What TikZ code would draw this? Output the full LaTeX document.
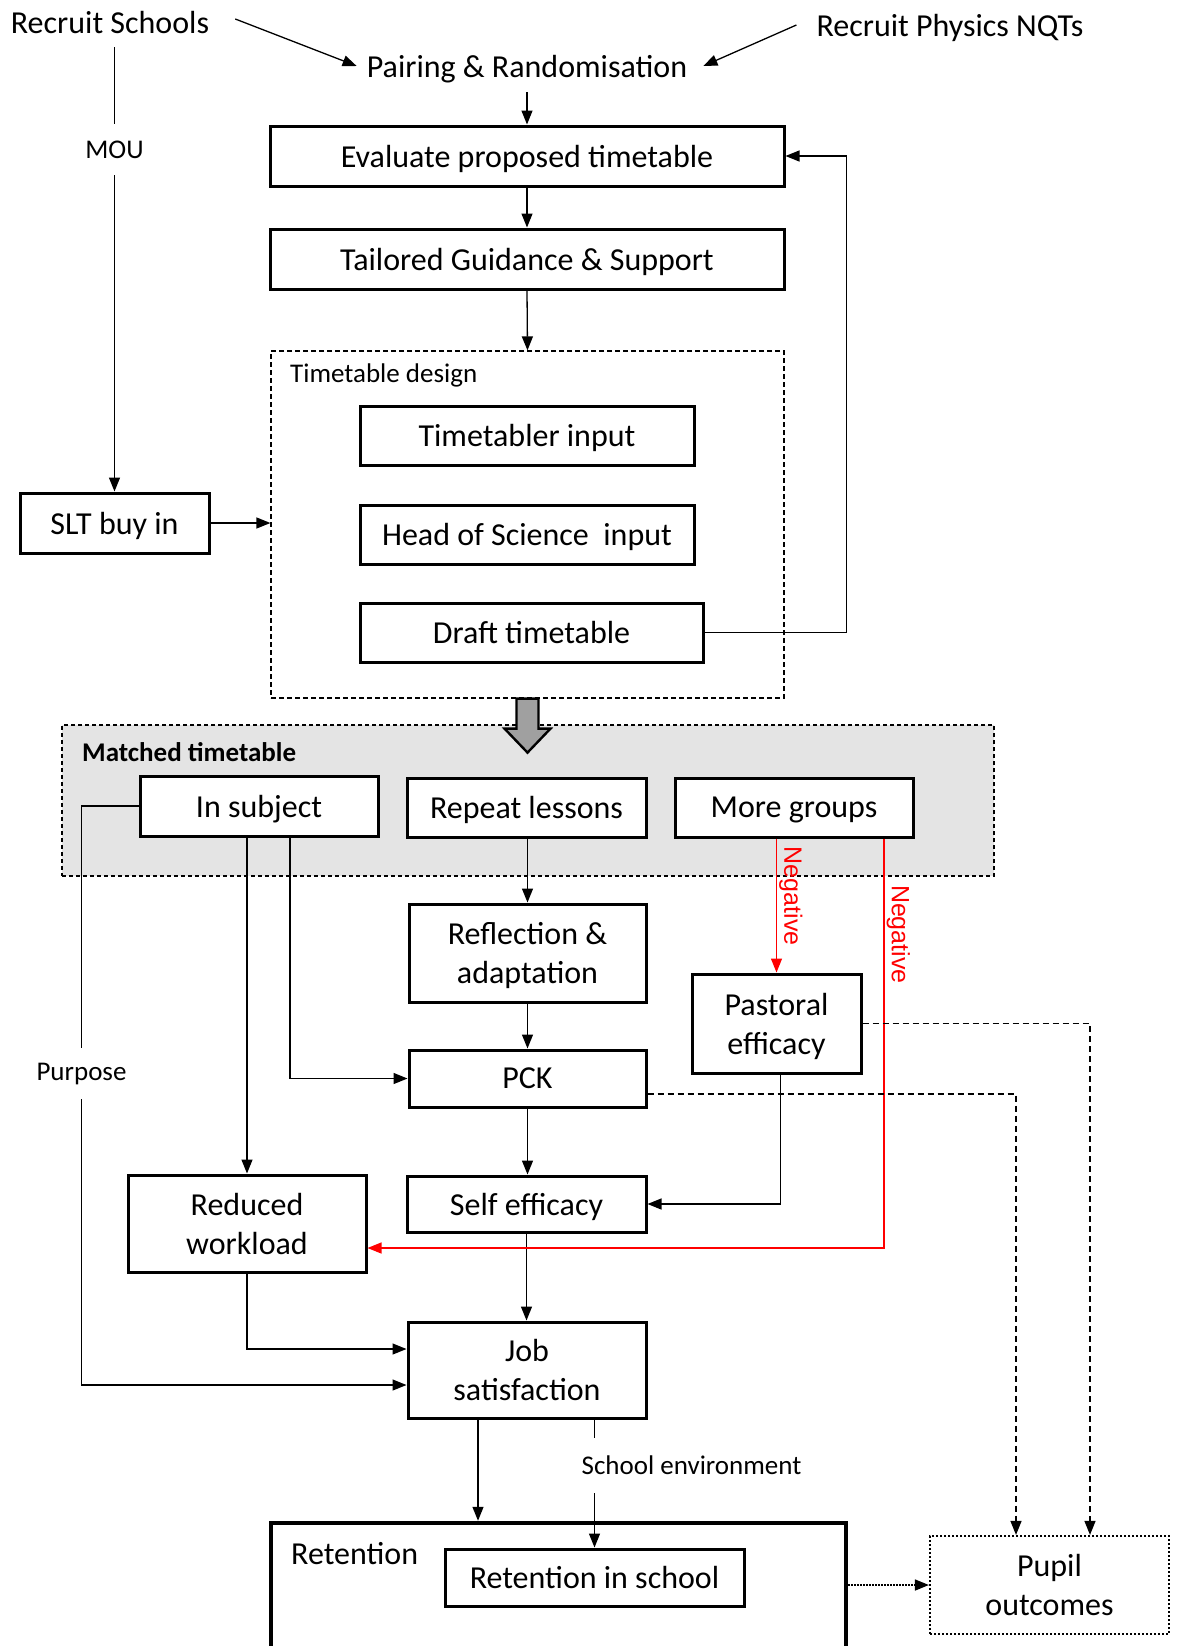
\documentclass[tikz,border=0pt]{standalone}
\usepackage{fontspec}
\setmainfont{Carlito}
\newfontfamily\arialf{Liberation Sans}
\usetikzlibrary{arrows.meta,calc}
\definecolor{matchgrey}{RGB}{228,228,228}
\definecolor{arrowgrey}{RGB}{160,160,160}
\begin{document}
\begin{tikzpicture}[x=1pt,y=-1pt,
  big/.style={font=\fontsize{32}{39}\selectfont},
  small/.style={font=\fontsize{27}{32}\selectfont},
  box/.style={draw, line width=3pt, inner sep=0pt, align=center, big, text depth=0pt},
  txt/.style={inner sep=0pt, big, text depth=0pt},
  conn/.style={line width=1.3pt, -{Triangle[length=14pt,width=11pt]}},
  negc/.style={conn, draw=red, -{Triangle[length=14pt,width=11pt,fill=red]}},
  dconn/.style={conn, dash pattern=on 6pt off 4pt},
  neglab/.style={font={\arialf\fontsize{25}{30}\selectfont}, text=red, rotate=-90, anchor=south, inner sep=2pt},
  gaplab/.style={fill=white, small, inner xsep=3pt}
]
\path[use as bounding box, clip] (0,0) rectangle (1182,1646);
\fill[white] (0,0) rectangle (1182,1646);

% top texts
\node[txt] (rs) at (110,22) {Recruit Schools};
\node[txt] (pr) at (527,66) {Pairing \& Randomisation};
\node[txt] (nqt) at (950,25) {Recruit Physics NQTs};

% upper boxes
\node[box, minimum width=514pt, minimum height=60pt] (eval) at (527,156) {Evaluate proposed timetable};
\node[box, minimum width=514pt, minimum height=60pt] (tail) at (527,259) {Tailored Guidance \& Support};

% timetable design
\node[draw, dash pattern=on 5pt off 3pt, line width=1.2pt, minimum width=513pt, minimum height=347pt, inner sep=0pt] (design) at (527.5,524.5) {};
\node[small, anchor=west, inner sep=0pt] (tdl) at (290,375) {Timetable design};
\node[box, minimum width=334pt, minimum height=59pt] (ttin) at (527,435.5) {Timetabler input};
\node[box, minimum width=334pt, minimum height=59pt] (head) at (527,534.5) {Head of Science\ \ input};
\node[box, minimum width=343pt, minimum height=59pt] (draft) at (531.5,632.5) {Draft timetable};
\node[box, minimum width=189pt, minimum height=60pt] (slt) at (114.5,523) {SLT buy in};

% matched timetable
\node[draw, fill=matchgrey, dash pattern=on 4pt off 3pt, line width=1.2pt, minimum width=932pt, minimum height=151pt, inner sep=0pt] (matched) at (528,800.5) {};
\node[font=\bfseries\fontsize{27}{32}\selectfont, anchor=west, inner sep=0pt] (mtl) at (82,752) {Matched timetable};
\coordinate (ga) at (design.south);
\draw[fill=arrowgrey, line width=2.4pt, line join=miter]
  ($(ga)+(-11,0)$) -- ($(ga)+(11,0)$) -- ($(ga)+(11,30)$) -- ($(ga)+(23,30)$) -- ($(ga)+(0,54)$)
  -- ($(ga)+(-23,30)$) -- ($(ga)+(-11,30)$) -- cycle;
\node[box, fill=white, minimum width=238pt, minimum height=60pt] (insub) at (259,806) {In subject};
\node[box, fill=white, minimum width=239pt, minimum height=59pt] (repeat) at (526.5,807.5) {Repeat lessons};
\node[box, fill=white, minimum width=238pt, minimum height=59pt] (more) at (794,807.5) {More groups};

% middle boxes
\node[box, minimum width=237pt, minimum height=98pt] (refl) at (527.5,953) {Reflection \&\\adaptation};
\node[box, minimum width=237pt, minimum height=57pt] (pck) at (527.5,1078.5) {PCK};
\node[box, minimum width=239pt, minimum height=56pt] (self) at (526.5,1204) {Self efficacy};
\node[box, minimum width=169pt, minimum height=99pt] (past) at (776.5,1023.5) {Pastoral\\efficacy};
\node[box, minimum width=238pt, minimum height=97pt] (red) at (247,1223.5) {Reduced\\workload};
\node[box, minimum width=238pt, minimum height=96pt] (job) at (527,1370) {Job\\satisfaction};

% bottom
\node[draw, line width=4.5pt, minimum width=575pt, minimum height=177pt, inner sep=0pt] (ret) at (558.5,1611.5) {};
\node[txt, anchor=west] (retl) at (291,1553) {Retention};
\node[box, minimum width=299pt, minimum height=57pt] (retin) at (594.5,1577.5) {Retention in school};
\node[box, line width=2.2pt, dash pattern=on 2pt off 2pt, minimum width=239pt, minimum height=98pt] (pupil) at (1049.5,1585) {Pupil\\outcomes};

% connectors top
\draw[conn] ($(rs.east)+(26,-3)$) -- ($(pr.west)+(-10,0)$);
\draw[conn] ($(nqt.west)+(-20,0)$) -- ($(pr.east)+(16,0)$);
\draw[conn] ($(pr.south -| eval.north)+(0,15)$) -- (eval.north);
\draw[conn] (eval.south) -- (tail.north);
\draw[conn] (tail.south) -- (design.north);
\draw[conn] (draft.east) -- ++(142,0) |- (eval.east);
\draw[conn] ($(rs.south -| slt.north)+(0,14)$) -- node[pos=0.23, gaplab, inner ysep=17pt] (mou) {MOU} (slt.north);
\draw[conn] (slt.east) -- (slt.east -| design.west);

% connectors middle
\coordinate (pc) at ($(job.west)+(-325,15)$);
\draw[conn] (insub.west) -| node[pos=0.731, gaplab, inner ysep=15pt] (purp) {Purpose} (pc) -- ($(job.west)+(0,15)$);
\draw[conn] (insub.south -| red.north) -- (red.north);
\draw[conn] ($(insub.south)+(31,0)$) |- (pck.west);
\draw[conn] (repeat.south -| refl.north) -- (refl.north);
\draw[conn] (refl.south) -- (pck.north);
\draw[conn] (pck.south) -- (self.north -| pck.south);
\draw[conn] (self.south) -- (job.north -| self.south);
\draw[conn] ($(past.south)+(4,0)$) |- (self.east);
\draw[negc] (more.south -| past.north) -- node[pos=0.43, neglab] (neg1) {Negative} (past.north);
\draw[negc] ($(more.south)+(90,0)$) |- node[pos=0.117, neglab] (neg2) {Negative} ($(red.east)+(0,24.5)$);
\draw[dconn] (past.east) -| ($(pupil.north)+(40.5,0)$);
\draw[dconn] ($(pck.east)+(0,15.5)$) -| ($(pupil.north)+(-33.5,0)$);
\draw[conn] (red.south) |- ($(job.west)+(0,-21)$);

% connectors bottom
\draw[conn] ($(job.south)+(-49,0)$) -- ($(job.south |- ret.north)+(-49,0)$);
\draw[conn] (job.south -| retin.north) -- node[pos=0.36, xshift=97pt, gaplab, inner ysep=18pt] (senv) {School environment} (retin.north);
\draw[line width=1.6pt, dash pattern=on 1.5pt off 1.5pt, -{Triangle[length=14pt,width=11pt]}] (ret.east |- pupil.west) -- (pupil.west);
\end{tikzpicture}
\end{document}
